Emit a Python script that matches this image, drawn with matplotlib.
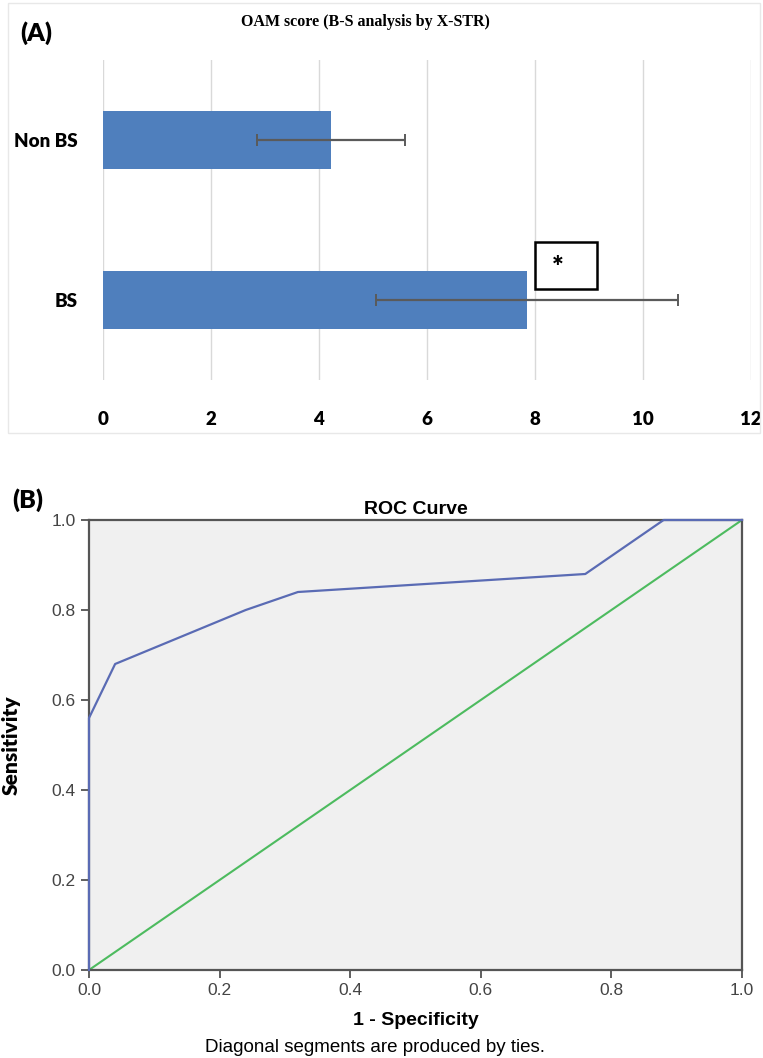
import numpy as np
import matplotlib
matplotlib.use("Agg")
import matplotlib.pyplot as plt
from matplotlib.patches import Rectangle

# panel A data
groups = ["BS", "Non BS"]
means = [7.85, 4.22]
errs = [2.79, 1.37]
star_box = (8.0, 9.15)   # x-range of the significance box

# panel B data (ROC)
fpr = [0.0, 0.0, 0.04, 0.24, 0.32, 0.76, 0.88, 1.0]
tpr = [0.0, 0.56, 0.68, 0.80, 0.84, 0.88, 1.0, 1.0]

W, H = 763, 1058
fig = plt.figure(figsize=(W / 100, H / 100), dpi=100)

def px(l, t, r, b):
	return [l / W, 1 - b / H, (r - l) / W, (b - t) / H]

narrow = ["Lato", "DejaVu Sans"]
arial = ["Liberation Sans", "DejaVu Sans"]

# faint frame round panel A
fig.patches.append(Rectangle((8 / W, 1 - 433 / H), 752 / W, 430 / H, transform=fig.transFigure,
	fill=False, edgecolor="#E8E8E8", lw=1))

############################## (A) bar chart #############################################################
axA = fig.add_axes(px(103, 60, 751, 380))
ypos = np.arange(len(groups))
axA.barh(ypos, means, height=0.36, color="#4F7FBD", zorder=2)
axA.errorbar(means, ypos, xerr=errs, fmt="none", ecolor="#5A5A5A", elinewidth=1.6,
	capsize=4, capthick=1.4, zorder=3)
axA.set_xlim(0, 12)
axA.set_ylim(-0.5, 1.5)
axA.set_xticks(range(0, 13, 2))
axA.set_yticks(ypos)
axA.set_yticklabels(groups)
axA.grid(axis="x", color="#D9D9D9", lw=1)
axA.set_axisbelow(True)
for s in axA.spines.values():
	s.set_visible(False)
axA.tick_params(axis="x", length=0, pad=22)
axA.tick_params(axis="y", length=0, pad=18)
for lab in axA.get_xticklabels() + axA.get_yticklabels():
	lab.set_fontfamily(narrow)
	lab.set_fontweight("heavy")
	lab.set_fontsize(13.5)

axA.add_patch(Rectangle((star_box[0], 0.069), star_box[1] - star_box[0], 0.293,
	fill=False, edgecolor="black", lw=1.8, zorder=4))
axA.text(8.43, 0.20, "*", ha="center", va="center", fontsize=20, fontweight="heavy",
	family=narrow, zorder=5)

fig.text(365 / W, 1 - 22 / H, "OAM score (B-S analysis by X-STR)", ha="center", va="center",
	family=["Liberation Serif", "DejaVu Serif"], weight="bold", size=11.5)
fig.text(20 / W, 1 - 33 / H, "(A)", ha="left", va="center", family=narrow, weight="heavy", size=18)

############################## (B) ROC curve #############################################################
axB = fig.add_axes(px(89, 520, 742, 970))
axB.set_facecolor("#F0F0F0")
axB.plot([0, 1], [0, 1], color="#4DBB5F", lw=1.5, zorder=2)
axB.plot(fpr, tpr, color="#5A6BB4", lw=1.6, zorder=3, clip_on=False)
axB.set_xlim(0, 1)
axB.set_ylim(0, 1)
ticks = np.arange(0, 1.01, 0.2)
axB.set_xticks(ticks)
axB.set_yticks(ticks)
axB.set_xticklabels(["%.1f" % t for t in ticks])
axB.set_yticklabels(["%.1f" % t for t in ticks])
for s in axB.spines.values():
	s.set_color("#555555")
	s.set_linewidth(1.6)
axB.tick_params(direction="out", length=6, width=1.2, color="#444444", labelcolor="#444444", labelsize=12.5)
for lab in axB.get_xticklabels() + axB.get_yticklabels():
	lab.set_fontfamily(arial)

axB.set_title("ROC Curve", fontsize=14, fontweight="bold", family=arial, pad=4)
axB.set_xlabel("1 - Specificity", fontsize=14, fontweight="bold", family=arial, labelpad=10)
axB.set_ylabel("Sensitivity", fontsize=15, fontweight="heavy", family=narrow)
axB.yaxis.set_label_coords(-68 / 653, 0.5)

fig.text(375 / W, 1 - 1048 / H, "Diagonal segments are produced by ties.", ha="center", va="center",
	family=arial, size=13.5)
fig.text(12 / W, 1 - 500 / H, "(B)", ha="left", va="center", family=narrow, weight="heavy", size=18)

plt.savefig("out.png", dpi=100)
